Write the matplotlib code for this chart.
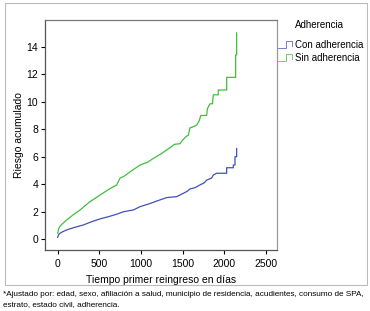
import matplotlib.pyplot as plt
from matplotlib.patches import Rectangle
from matplotlib.lines import Line2D

plt.rcParams['font.family'] = ['Liberation Sans', 'DejaVu Sans']

# Sin adherencia (green) - repeated days mark jumps
dias_sin = [0, 10, 28, 60, 108, 180, 268, 380, 509, 620, 709, 749, 790, 869, 990,
            1080, 1150, 1240, 1310, 1370, 1400, 1470, 1500, 1550, 1570, 1590, 1640,
            1670, 1700, 1720, 1790, 1800, 1830, 1860, 1870, 1930, 1930, 2031, 2031,
            2111, 2111, 2139, 2139, 2151, 2151]
riesgo_sin = [0.44, 0.75, 0.95, 1.15, 1.4, 1.75, 2.13, 2.7, 3.22, 3.65, 3.95, 4.45, 4.55,
              4.9, 5.4, 5.6, 5.88, 6.2, 6.49, 6.75, 6.9, 6.95, 7.2, 7.5, 7.55, 8.1, 8.2,
              8.3, 8.6, 9.0, 9.0, 9.5, 9.85, 9.85, 10.5, 10.5, 10.85, 10.85, 11.77,
              11.77, 11.77, 11.77, 13.4, 13.4, 15.0]

# Con adherencia (blue)
dias_con = [0, 10, 28, 60, 108, 200, 308, 400, 509, 620, 709, 789, 909, 990, 1110,
            1200, 1310, 1430, 1510, 1560, 1590, 1650, 1710, 1760, 1790, 1850, 1870,
            1910, 1950, 2031, 2031, 2111, 2111, 2131, 2131, 2151, 2151]
riesgo_con = [0.15, 0.32, 0.44, 0.55, 0.68, 0.86, 1.04, 1.26, 1.48, 1.66, 1.82, 2.0, 2.13,
              2.37, 2.6, 2.8, 3.03, 3.1, 3.34, 3.5, 3.66, 3.75, 3.95, 4.1, 4.3, 4.45, 4.67,
              4.8, 4.8, 4.8, 5.2, 5.2, 5.4, 5.4, 6.0, 6.0, 6.6]

xticks = [0, 500, 1000, 1500, 2000, 2500]
yticks = [0, 2, 4, 6, 8, 10, 12, 14]

azul = '#3f51b8'
verde = '#3fbf3f'

fig = plt.figure(figsize=(3.7, 3.11), dpi=100)
ax = fig.add_axes([45 / 370, 1 - 250 / 311, 232 / 370, 230 / 311])

ax.plot(dias_con, riesgo_con, color=azul, lw=0.9)
ax.plot(dias_sin, riesgo_sin, color=verde, lw=0.9)

ax.set_xlim(-153, 2636)
ax.set_ylim(-0.78, 15.94)
ax.set_xticks(xticks)
ax.set_yticks(yticks)
ax.tick_params(labelsize=7.5, length=3, width=0.8)
ax.tick_params(axis='x', pad=3.5)
ax.tick_params(axis='y', pad=2)
for s in ax.spines.values():
    s.set_color('#555555')
    s.set_linewidth(0.9)
ax.spines['top'].set_color('#777777')
ax.spines['right'].set_color('#999999')

ax.set_xlabel('Tiempo primer reingreso en días', fontsize=7.5, labelpad=4)
ax.set_ylabel('Riesgo acumulado', fontsize=7.5, labelpad=1.5)

# legend drawn by hand (step-shaped keys)
fig.text(295 / 370, 1 - 25 / 311, 'Adherencia', fontsize=7, va='center')
for i, (lab, col) in enumerate([('Con adherencia', azul), ('Sin adherencia', verde)]):
    yc = 45 + i * 13
    key_x = [278, 286, 286, 292, 292]
    key_y = [yc + 3, yc + 3, yc - 4, yc - 4, yc + 1]
    fig.add_artist(Line2D([v / 370 for v in key_x], [1 - v / 311 for v in key_y],
                          transform=fig.transFigure, color=col, lw=0.6, alpha=0.85))
    fig.text(295 / 370, 1 - yc / 311, lab, fontsize=7, va='center')

# outer border
fig.patches.append(Rectangle((5 / 370, 1 - 285 / 311), 362 / 370, 282 / 311,
                             transform=fig.transFigure, fill=False,
                             edgecolor='#bbbbbb', lw=0.8))

fig.text(3 / 370, 1 - 295 / 311,
         '*Ajustado por: edad, sexo, afiliación a salud, municipio de residencia, acudientes, consumo de SPA,',
         fontsize=5.9, va='center')
fig.text(3 / 370, 1 - 305 / 311, 'estrato, estado civil, adherencia.', fontsize=5.9, va='center')

fig.savefig('out.png', dpi=100)
